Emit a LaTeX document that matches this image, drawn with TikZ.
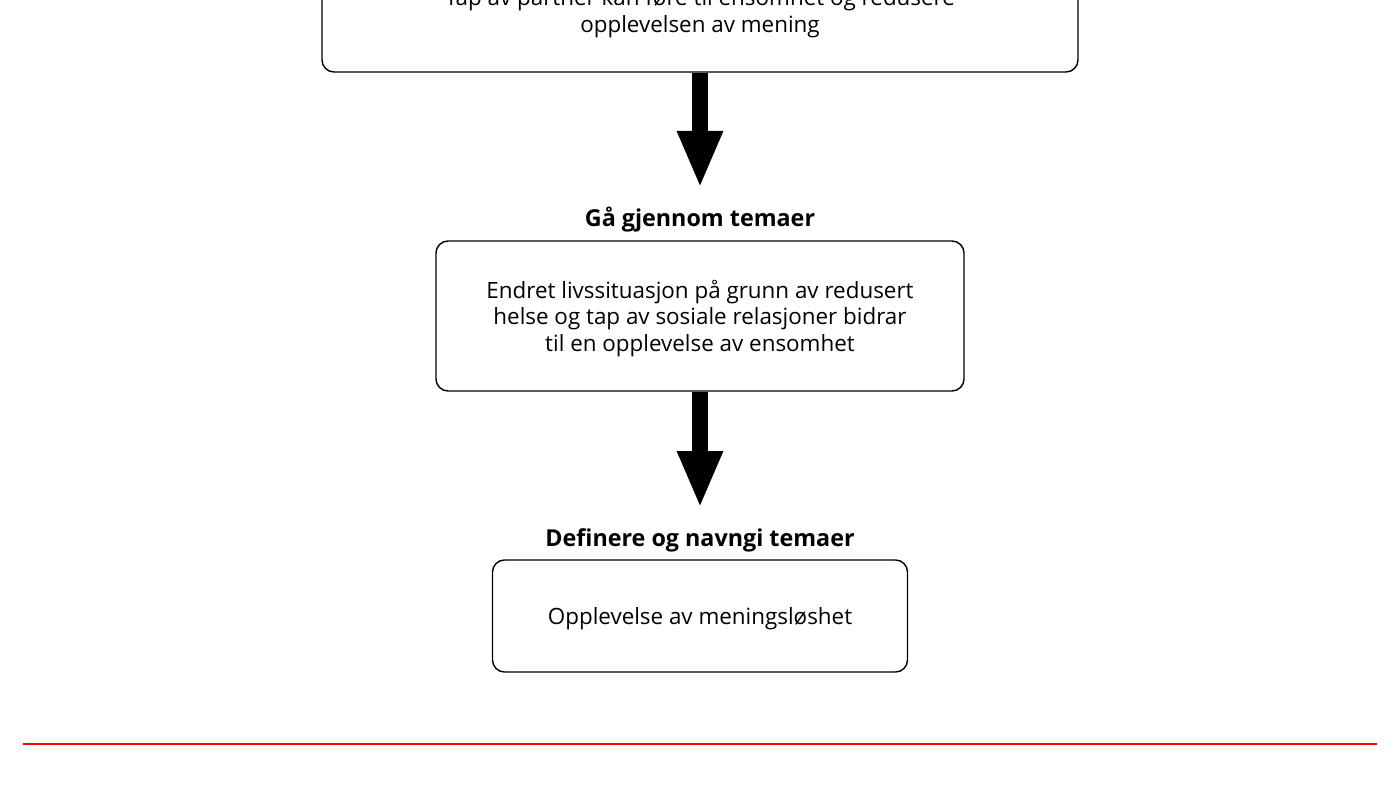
\documentclass[tikz,border=0pt]{standalone}
\usepackage{fontspec}
\setmainfont{Open Sans}
\usetikzlibrary{arrows.meta}

\newcommand{\boxtext}[1]{\raisebox{-3.5pt}[\height][\depth]{\begin{tabular}{@{}c@{}}#1\end{tabular}}}

\tikzset{
  themebox/.style={draw, line width=1.4pt, rounded corners=12pt, align=center, inner sep=0pt},
  headline/.style={draw=none, font=\fontsize{23.3}{27}\selectfont\bfseries},
  bigarrow/.style={line width=16pt, -{Triangle[width=42pt,length=57pt]}}
}

\begin{document}
\begin{tikzpicture}[x=1pt,y=-1pt]
\useasboundingbox (0,0) rectangle (1400,786);
\fontsize{22.4}{26.5}\selectfont

\node [themebox, minimum width=756pt, minimum height=124pt] (partner) at (700,10)
  {\boxtext{Tap av partner kan føre til ensomhet og redusere\\ opplevelsen av mening}};

\node [headline] (gjennom) at (700,220) {Gå gjennom temaer};
\node [themebox, minimum width=528pt, minimum height=150pt] (livs) at (700,316)
  {\boxtext{Endret livssituasjon på grunn av redusert\\ helse og tap av sosiale relasjoner bidrar\\ til en opplevelse av ensomhet}};

\node [headline] (definere) at (700,540) {Definere og navngi temaer};
\node [themebox, minimum width=415pt, minimum height=112pt] (mening) at (700,616)
  {\boxtext{Opplevelse av meningsløshet}};

\coordinate (tipA) at (700,188);
\coordinate (tipB) at (700,508);
\draw[bigarrow] (partner.south) -- (tipA); % Arrow to next step
\draw[bigarrow] (livs.south) -- (tipB);

\coordinate (redL) at (23,744);
\coordinate (redR) at (1377,744);
\draw[red, line width=2.6pt] (redL) -- (redR); % Bottom rule

\end{tikzpicture}
\end{document}
